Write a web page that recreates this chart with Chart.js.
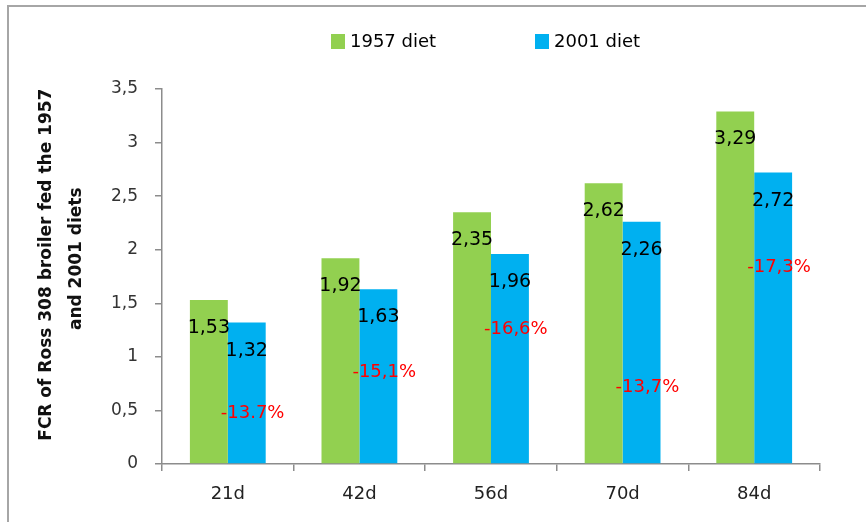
<!DOCTYPE html>
<html>
<head>
<meta charset="utf-8">
<script src="https://cdn.jsdelivr.net/npm/chart.js@4.4.1/dist/chart.umd.min.js"></script>
<style>
  html, body { margin: 0; padding: 0; background: #fff; }
  #wrap { width: 866px; height: 522px; position: relative; }
</style>
</head>
<body>
<div id="wrap"><canvas id="fcrChart" width="866" height="522"></canvas></div>
<script>
// data
const ages = ['21d', '42d', '56d', '70d', '84d'];
const diet1957 = [1.53, 1.92, 2.35, 2.62, 3.29];
const diet2001 = [1.32, 1.63, 1.96, 2.26, 2.72];
const seriesNames = ['1957 diet', '2001 diet'];
// red change notes and the value height they sit at
const changeText = ['-13.7%', '-15,1%', '-16,6%', '-13,7%', '-17,3%'];
const changeAt = [0.47, 0.86, 1.26, 0.72, 1.84];
// leading spaces nudge each line up a little, like the original
const yTitle = ['    FCR of Ross 308 broiler fed the 1957', '      and 2001 diets'];

const GREEN = '#92D050';
const BLUE = '#00B0F0';
const FONT = "'DejaVu Sans', sans-serif";

const comma = v => String(v).replace('.', ',');

// border, legend and labels
const extras = {
  id: 'extras',
  beforeDraw(chart) {
    const ctx = chart.ctx;
    ctx.save();
    ctx.strokeStyle = '#a6a6a6';
    ctx.lineWidth = 2;
    ctx.beginPath();
    ctx.moveTo(8, 522);
    ctx.lineTo(8, 6);
    ctx.lineTo(866, 6);
    ctx.stroke();
    ctx.restore();
  },
  afterDatasetsDraw(chart) {
    const ctx = chart.ctx;
    ctx.save();
    // values inside the bar tops
    ctx.font = '19px ' + FONT;
    ctx.fillStyle = '#000';
    ctx.textAlign = 'center';
    ctx.textBaseline = 'middle';
    chart.data.datasets.forEach((ds, di) => {
      chart.getDatasetMeta(di).data.forEach((bar, i) => {
        ctx.fillText(comma(ds.data[i]), bar.x, bar.y + 28);
      });
    });
    // red percent notes
    ctx.font = '18px ' + FONT;
    ctx.fillStyle = '#FF0000';
    ctx.textAlign = 'left';
    const xs = chart.scales.x, ys = chart.scales.y;
    changeText.forEach((t, i) => {
      ctx.fillText(t, xs.getPixelForValue(i) - 7, ys.getPixelForValue(changeAt[i]));
    });
    // legend
    ctx.font = '18px ' + FONT;
    ctx.textBaseline = 'middle';
    const legendX = [331, 535];
    chart.data.datasets.forEach((ds, di) => {
      ctx.fillStyle = ds.backgroundColor;
      ctx.fillRect(legendX[di], 34, 14, 15);
      ctx.fillStyle = '#000';
      ctx.fillText(ds.label, legendX[di] + 19, 42);
    });
    ctx.restore();
  }
};

new Chart(document.getElementById('fcrChart'), {
  type: 'bar',
  data: {
    labels: ages,
    datasets: [
      { label: seriesNames[0], data: diet1957, backgroundColor: GREEN },
      { label: seriesNames[1], data: diet2001, backgroundColor: BLUE }
    ]
  },
  options: {
    responsive: false,
    animation: false,
    layout: { padding: { top: 89, right: 46, bottom: 0, left: 0 } },
    datasets: { bar: { categoryPercentage: 0.576, barPercentage: 1 } },
    plugins: {
      legend: { display: false },
      tooltip: { enabled: false }
    },
    scales: {
      x: {
        afterFit: s => { s.height = 58; },
        grid: { drawOnChartArea: false, tickLength: 7, color: '#8c8c8c', lineWidth: 1.5 },
        border: { color: '#8c8c8c', width: 1.5 },
        ticks: { color: '#222', font: { family: FONT, size: 18 }, padding: 13 }
      },
      y: {
        min: 0,
        max: 3.5,
        afterFit: s => { s.width = 162; },
        grid: { drawOnChartArea: false, tickLength: 7, color: '#8c8c8c', lineWidth: 1.5 },
        border: { color: '#8c8c8c', width: 1.5 },
        ticks: {
          stepSize: 0.5,
          color: '#333',
          padding: 17,
          font: { family: FONT, size: 17 },
          callback: v => comma(v)
        },
        title: {
          display: true,
          text: yTitle,
          color: '#111',
          font: { family: FONT, size: 17, weight: 'bold', lineHeight: 1.75 },
          padding: { top: 32, bottom: 0 }
        }
      }
    }
  },
  plugins: [extras]
});
</script>
</body>
</html>
